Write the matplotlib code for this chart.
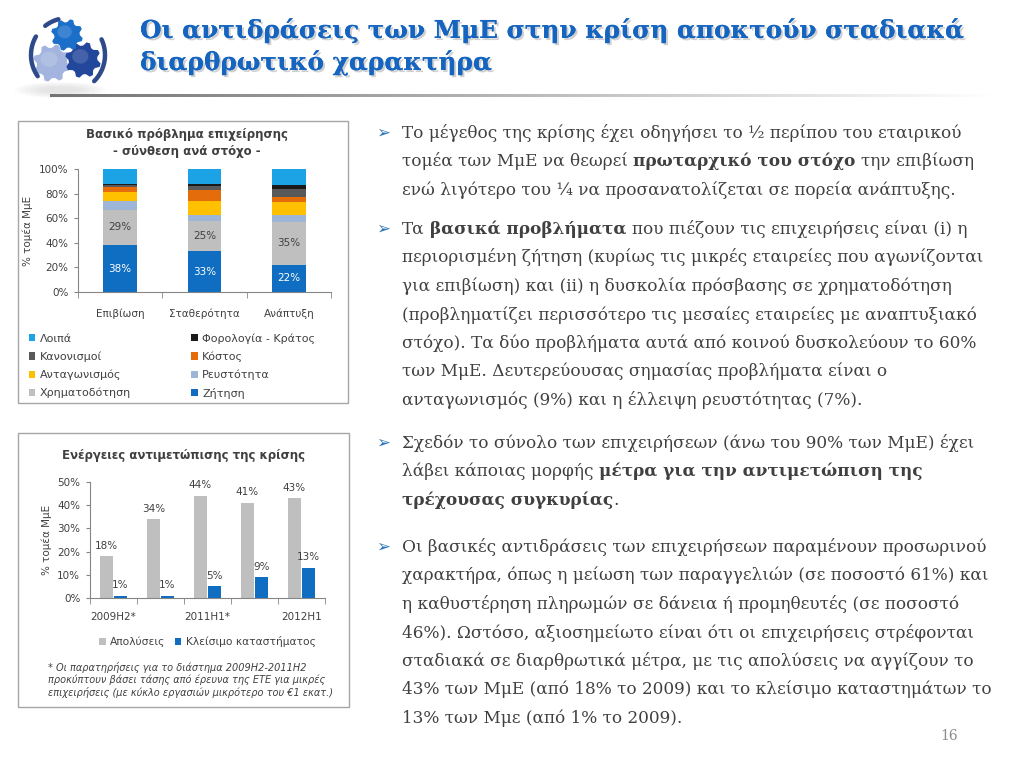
import numpy as np
import matplotlib
matplotlib.use("Agg")
import matplotlib.pyplot as plt
import matplotlib.patheffects as pe
from matplotlib.patches import Rectangle, Polygon, Ellipse

W, H = 1024, 768

# ---- data: top chart (stacked, % of SMEs by goal) ----
goals = ["Επιβίωση", "Σταθερότητα", "Ανάπτυξη"]
problems = ["Ζήτηση", "Χρηματοδότηση", "Ρευστότητα", "Ανταγωνισμός",
            "Κόστος", "Κανονισμοί", "Φορολογία - Κράτος", "Λοιπά"]
zitisi = [38, 33, 22]
xrimatodotisi = [29, 25, 35]
reustotita = [7, 5, 6]
antagonismos = [7, 11, 10]
kostos = [4, 9, 4]
kanonismoi = [2, 3, 7]
forologia = [1, 2, 3]
loipa = [12, 12, 13]
problem_colors = ["#0F6EC1", "#BFBFBF", "#9DB6D8", "#FFC000",
                  "#E46C0A", "#595959", "#1A1A1A", "#1BA3E6"]

# ---- data: bottom chart ----
periods = ["2009H2*", "2010H2*", "2011H1*", "2011H2*", "2012H1"]
apolyseis = [18, 34, 44, 41, 43]
kleisimo = [1, 1, 5, 9, 13]

TXT = "#404040"
SPINE = "#868686"

fig = plt.figure(figsize=(W / 100, H / 100), dpi=100)
fig.patch.set_facecolor("white")

# overlay in pixel coordinates for slide decorations / text
ov = fig.add_axes([0, 0, 1, 1], zorder=0)
ov.axis("off")


def rect(l, t, r, b):
    return [l / W, 1 - b / H, (r - l) / W, (b - t) / H]


# ---- logo (gears) ----
def gear(cx, cy, r, color, n=8):
    ang = np.linspace(0, 2 * np.pi, n * 4, endpoint=False)
    rad = np.where((np.arange(n * 4) // 2) % 2 == 0, r, r * 0.8)
    pts = np.c_[cx + rad * np.cos(ang + 0.2), cy + rad * np.sin(ang + 0.2)]
    ov.add_patch(Polygon(pts, closed=True, fc=color, ec="none", zorder=3))
    ov.add_patch(Ellipse((cx - r * 0.15, cy - r * 0.2), r * 0.9, r * 0.8,
                         fc="white", alpha=0.15, ec="none", zorder=4))


for k in range(6):
    ov.add_patch(Ellipse((60, 90), 40 + 10 * k, 6 + 2 * k, fc="#bdbdbd",
                         alpha=0.07, ec="none", zorder=1))
gear(52, 63, 19, "#A3B5DE")
gear(83, 60, 18, "#23479A")
gear(67, 35, 16, "#1C6FC9")
for a0, a1 in [(150, 215), (-45, 25), (105, 128)]:
    t = np.radians(np.linspace(a0, a1, 30))
    ov.plot(68 + 37 * np.cos(t), 55 - 37 * np.sin(t),
            color="#2F4A8A", lw=3.2, solid_capstyle="round", zorder=3)

# gradient rule under title
grad = np.linspace(0.45, 1.0, 256)[None, :]
ov.imshow(grad, cmap="gray", vmin=0, vmax=1, extent=(50, 1000, 97, 94),
          aspect="auto", zorder=1)
ov.set_xlim(0, W)
ov.set_ylim(H, 0)

# ---- title ----
shadow = [pe.withSimplePatchShadow(offset=(1.5, -1.5), shadow_rgbFace="#8a8a8a", alpha=0.4),
          pe.Normal()]
for y, line in [(38, "Οι αντιδράσεις των ΜμΕ στην κρίση αποκτούν σταδιακά"),
                (70, "διαρθρωτικό χαρακτήρα")]:
    ov.text(140, y, line, fontsize=17.8, fontweight="bold", family="DejaVu Serif",
            color="#1565C0", va="baseline", ha="left", path_effects=shadow, zorder=5)

# chart boxes
ov.add_patch(Rectangle((18, 121), 330, 282, fill=False, ec="#A6A6A6", lw=1, zorder=1))
ov.add_patch(Rectangle((18, 433), 331, 274, fill=False, ec="#A6A6A6", lw=1, zorder=1))

# ---- top chart ----
ax1 = fig.add_axes(rect(78, 169, 331, 292), zorder=2)
ax1.set_facecolor("none")
series = [zitisi, xrimatodotisi, reustotita, antagonismos,
          kostos, kanonismoi, forologia, loipa]
x = np.arange(len(goals))
bottom = np.zeros(len(goals))
handles = []
for name, vals, col in zip(problems, series, problem_colors):
    v = np.array(vals) / 100
    b = ax1.bar(x, v, 0.4, bottom=bottom, color=col, label=name, zorder=2)
    handles.append(b)
    if name in ("Ζήτηση", "Χρηματοδότηση"):
        c = "white" if name == "Ζήτηση" else TXT
        for xi, bi, vi in zip(x, bottom, v):
            ax1.text(xi, bi + vi / 2, f"{vi * 100:.0f}%", ha="center", va="center",
                     color=c, fontsize=7.5)
    bottom += v
ax1.set_xlim(-0.5, 2.5)
ax1.set_ylim(0, 1)
ax1.set_yticks(np.linspace(0, 1, 6))
ax1.set_yticklabels([f"{int(t * 100)}%" for t in np.linspace(0, 1, 6)])
ax1.set_xticks(x)
ax1.set_xticklabels(goals)
ax1.set_xticks([-0.5, 0.5, 1.5, 2.5], minor=True)
ax1.tick_params(axis="x", which="major", length=0, pad=12, labelsize=7.5, labelcolor=TXT)
ax1.tick_params(axis="x", which="minor", length=4, color=SPINE, direction="out")
ax1.tick_params(axis="y", length=3, color=SPINE, labelsize=7.5, labelcolor=TXT, pad=4)
for s in ["top", "right"]:
    ax1.spines[s].set_visible(False)
for s in ["left", "bottom"]:
    ax1.spines[s].set_color(SPINE)
ax1.set_ylabel("% τομέα ΜμΕ", fontsize=7.5, color=TXT, labelpad=4)
ax1.text(0.43, 1.21, "Βασικό πρόβλημα επιχείρησης\n- σύνθεση ανά στόχο -",
         transform=ax1.transAxes, ha="center", va="center", fontsize=8.5,
         fontweight="bold", color=TXT, linespacing=1.35)
order = [7, 5, 3, 1, 6, 4, 2, 0]
ax1.legend([handles[i] for i in order], [problems[i] for i in order], ncol=2,
           loc="upper left", bbox_to_anchor=(-0.213, -0.30), frameon=False,
           fontsize=8, labelcolor=TXT, handlelength=0.6, handleheight=0.6,
           handletextpad=0.4, columnspacing=5.4, labelspacing=0.68, borderaxespad=0)

# ---- bottom chart ----
ax2 = fig.add_axes(rect(90, 482, 325, 598), zorder=2)
ax2.set_facecolor("none")
xp = np.arange(len(periods))
b1 = ax2.bar(xp - 0.15, np.array(apolyseis) / 100, 0.29, color="#BFBFBF",
             label="Απολύσεις", zorder=2)
b2 = ax2.bar(xp + 0.15, np.array(kleisimo) / 100, 0.29, color="#0F6EC1",
             label="Κλείσιμο καταστήματος", zorder=2)
for bars, vals in [(b1, apolyseis), (b2, kleisimo)]:
    for rct, v in zip(bars, vals):
        ax2.annotate(f"{v}%", (rct.get_x() + rct.get_width() / 2, rct.get_height()),
                     xytext=(0, 4), textcoords="offset points", ha="center",
                     va="bottom", fontsize=7.5, color=TXT)
ax2.set_xlim(-0.5, 4.5)
ax2.set_ylim(0, 0.5)
ax2.set_yticks(np.linspace(0, 0.5, 6))
ax2.set_yticklabels([f"{int(round(t * 100))}%" for t in np.linspace(0, 0.5, 6)])
ax2.set_xticks(xp[::2])
ax2.set_xticklabels(periods[::2])
ax2.set_xticks(np.arange(-0.5, 5, 1), minor=True)
ax2.tick_params(axis="x", which="major", length=0, pad=10, labelsize=7.5, labelcolor=TXT)
ax2.tick_params(axis="x", which="minor", length=4, color=SPINE, direction="out")
ax2.tick_params(axis="y", length=3, color=SPINE, labelsize=7.5, labelcolor=TXT, pad=4)
for s in ["top", "right"]:
    ax2.spines[s].set_visible(False)
for s in ["left", "bottom"]:
    ax2.spines[s].set_color(SPINE)
ax2.set_ylabel("% τομέα ΜμΕ", fontsize=7.5, color=TXT, labelpad=4)
ax2.text(0.4, 1.23, "Ενέργειες αντιμετώπισης της κρίσης", transform=ax2.transAxes,
         ha="center", va="center", fontsize=8.5, fontweight="bold", color=TXT)
ax2.legend(loc="upper center", bbox_to_anchor=(0.5, -0.29), ncol=2, frameon=False,
           fontsize=7.7, labelcolor=TXT, handlelength=0.6, handleheight=0.6,
           handletextpad=0.4, columnspacing=0.9, borderaxespad=0)
ov.text(48, 680, "* Οι παρατηρήσεις για το διάστημα 2009Η2-2011Η2\n"
        "προκύπτουν βάσει τάσης από έρευνα της ΕΤΕ για μικρές\n"
        "επιχειρήσεις (με κύκλο εργασιών μικρότερο του €1 εκατ.)",
        fontsize=7, style="italic", color=TXT, va="center", ha="left",
        linespacing=1.25)

# ---- right-hand bullet text ----
paragraphs = [
    (133, [[("Το μέγεθος της κρίσης έχει οδηγήσει το ½ περίπου του εταιρικού", 0)],
           [("τομέα των ΜμΕ να θεωρεί", 0), (" πρωταρχικό του στόχο", 1), (" την επιβίωση", 0)],
           [("ενώ λιγότερο του ¼ να προσανατολίζεται σε πορεία ανάπτυξης.", 0)]]),
    (229, [[("Τα", 0), (" βασικά προβλήματα", 1), (" που πιέζουν τις επιχειρήσεις είναι (i) η", 0)],
           [("περιορισμένη ζήτηση (κυρίως τις μικρές εταιρείες που αγωνίζονται", 0)],
           [("για επιβίωση) και (ii) η δυσκολία πρόσβασης σε χρηματοδότηση", 0)],
           [("(προβληματίζει περισσότερο τις μεσαίες εταιρείες με αναπτυξιακό", 0)],
           [("στόχο). Τα δύο προβλήματα αυτά από κοινού δυσκολεύουν το 60%", 0)],
           [("των ΜμΕ. Δευτερεύουσας σημασίας προβλήματα είναι ο", 0)],
           [("ανταγωνισμός (9%) και η έλλειψη ρευστότητας (7%).", 0)]]),
    (443, [[("Σχεδόν το σύνολο των επιχειρήσεων (άνω του 90% των ΜμΕ) έχει", 0)],
           [("λάβει κάποιας μορφής", 0), (" μέτρα για την αντιμετώπιση της", 1)],
           [("τρέχουσας συγκυρίας", 1), (".", 0)]]),
    (547, [[("Οι βασικές αντιδράσεις των επιχειρήσεων παραμένουν προσωρινού", 0)],
           [("χαρακτήρα, όπως η μείωση των παραγγελιών (σε ποσοστό 61%) και", 0)],
           [("η καθυστέρηση πληρωμών σε δάνεια ή προμηθευτές (σε ποσοστό", 0)],
           [("46%). Ωστόσο, αξιοσημείωτο είναι ότι οι επιχειρήσεις στρέφονται", 0)],
           [("σταδιακά σε διαρθρωτικά μέτρα, με τις απολύσεις να αγγίζουν το", 0)],
           [("43% των ΜμΕ (από 18% το 2009) και το κλείσιμο καταστημάτων το", 0)],
           [("13% των Μμε (από 1% το 2009).", 0)]]),
]
BODY = dict(family="DejaVu Serif", fontsize=12.2, color=TXT, va="baseline", ha="left", zorder=5)
LH = 28.5
r = fig.canvas.get_renderer()


def width(s, bold):
    t = ov.text(0, 0, s, fontweight="bold" if bold else "normal", **BODY)
    w = t.get_window_extent(renderer=r).width
    t.remove()
    return w


space = width("a a", 0) - width("aa", 0)
for y0, lines in paragraphs:
    ov.text(376, y0 + 5, "➢", family="DejaVu Sans", fontsize=12, color="#2E75B6",
            va="baseline", ha="left", zorder=5)
    for i, line in enumerate(lines):
        xx = 402
        yy = y0 + i * LH + 5
        for seg, bold in line:
            if seg.startswith(" "):
                xx += space
                seg = seg.lstrip()
            t = ov.text(xx, yy, seg, fontweight="bold" if bold else "normal", **BODY)
            xx += t.get_window_extent(renderer=r).width

ov.text(940, 740, "16", family="DejaVu Serif", fontsize=10, color="#8C8C8C",
        va="baseline", ha="left")

fig.savefig("out.png", dpi=100, facecolor="white")
